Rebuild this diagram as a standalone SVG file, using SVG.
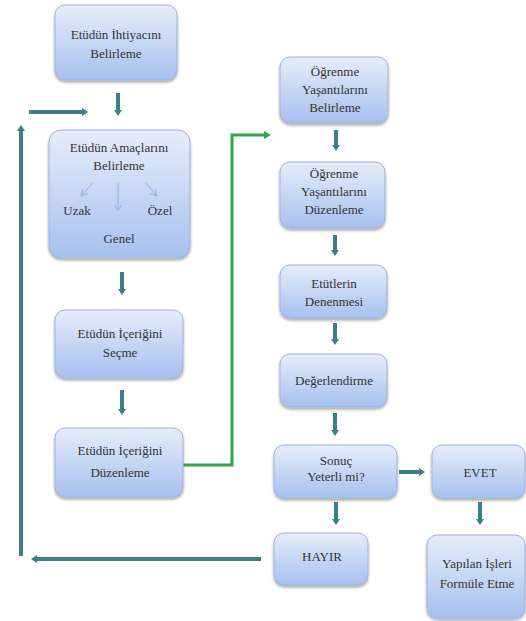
<svg xmlns="http://www.w3.org/2000/svg" width="526" height="621" viewBox="0 0 526 621">
<defs>
<linearGradient id="g" x1="0" y1="0" x2="0" y2="1">
<stop offset="0" stop-color="#e6edfa"/>
<stop offset="1" stop-color="#a6c0ee"/>
</linearGradient>
<filter id="sh" x="-10%" y="-10%" width="120%" height="130%">
<feGaussianBlur in="SourceAlpha" stdDeviation="1.5"/>
<feOffset dx="0" dy="2" result="b"/>
<feComponentTransfer><feFuncA type="linear" slope="0.35"/></feComponentTransfer>
<feMerge><feMergeNode/><feMergeNode in="SourceGraphic"/></feMerge>
</filter>
<marker id="ah" markerUnits="userSpaceOnUse" markerWidth="10" markerHeight="10" refX="2" refY="5" orient="auto">
<path d="M0,1 L6,5 L0,9 Z" fill="#3f7d88"/>
</marker>
<marker id="ahg" markerUnits="userSpaceOnUse" markerWidth="10" markerHeight="10" refX="2" refY="5" orient="auto">
<path d="M0,1 L7,5 L0,9 Z" fill="#2ea64a"/>
</marker>
<marker id="ahs" markerUnits="userSpaceOnUse" markerWidth="8" markerHeight="8" refX="5" refY="4" orient="auto">
<path d="M0,0.5 L6,4 L0,7.5" fill="none" stroke="#8fb0dc" stroke-width="1"/>
</marker>
</defs>
<style>
.box{fill:url(#g);stroke:#9db3d9;stroke-width:1;filter:url(#sh)}
.t{font-family:'Liberation Serif','DejaVu Serif','Times New Roman',serif;font-size:13px;fill:#333;text-anchor:middle}
.c{fill:none;stroke:#3f7d88;stroke-width:4;marker-end:url(#ah)}
.g{fill:none;stroke:#2ea64a;stroke-width:3;marker-end:url(#ahg)}
.s{fill:none;stroke:#8fb0dc;stroke-width:1;marker-end:url(#ahs)}
</style>
<g id="connectors">
<line class="c" x1="118" y1="93" x2="118" y2="112"/>
<line class="c" x1="122" y1="272" x2="122" y2="291"/>
<line class="c" x1="122" y1="390" x2="122" y2="411"/>
<polyline class="g" points="183,465 232,465 232,135 266,135"/>
<line class="c" x1="336" y1="130" x2="336" y2="147"/>
<line class="c" x1="335" y1="235" x2="335" y2="252"/>
<line class="c" x1="335" y1="323" x2="335" y2="341"/>
<line class="c" x1="335" y1="413" x2="335" y2="432"/>
<line class="c" x1="399" y1="472" x2="421" y2="472"/>
<line class="c" x1="480" y1="502" x2="480" y2="521"/>
<line class="c" x1="336" y1="502" x2="336" y2="521"/>
<line class="c" x1="261" y1="559" x2="35" y2="559"/>
<line class="c" x1="21" y1="556" x2="21" y2="129"/>
<line class="c" x1="29" y1="112" x2="84" y2="112"/>
</g>
<g id="n1"><rect class="box" x="55" y="5" width="122" height="75" rx="10"/>
<text class="t" x="116" y="39">Etüdün İhtiyacını</text><text class="t" x="116" y="58">Belirleme</text></g>
<g id="n2"><rect class="box" x="49" y="130" width="141" height="128" rx="12"/>
<text class="t" x="119" y="152">Etüdün Amaçlarını</text><text class="t" x="119" y="170">Belirleme</text>
<line class="s" x1="93" y1="183" x2="82" y2="195"/>
<line class="s" x1="118" y1="183" x2="118" y2="210"/>
<line class="s" x1="146" y1="183" x2="156" y2="195"/>
<text class="t" x="77" y="215">Uzak</text><text class="t" x="160" y="215">Özel</text>
<text class="t" x="119" y="243">Genel</text></g>
<g id="n3"><rect class="box" x="55" y="310" width="128" height="68" rx="10"/>
<text class="t" x="120" y="338">Etüdün İçeriğini</text><text class="t" x="120" y="357">Seçme</text></g>
<g id="n4"><rect class="box" x="55" y="428" width="128" height="69" rx="10"/>
<text class="t" x="120" y="455">Etüdün İçeriğini</text><text class="t" x="120" y="477">Düzenleme</text></g>
<g id="n5"><rect class="box" x="280" y="57" width="108" height="66" rx="10"/>
<text class="t" x="335" y="76">Öğrenme</text><text class="t" x="335" y="94">Yaşantılarını</text><text class="t" x="335" y="112">Belirleme</text></g>
<g id="n6"><rect class="box" x="280" y="162" width="105" height="66" rx="10"/>
<text class="t" x="334" y="178">Öğrenme</text><text class="t" x="334" y="196">Yaşantılarını</text><text class="t" x="334" y="214">Düzenleme</text></g>
<g id="n7"><rect class="box" x="280" y="265" width="107" height="53" rx="10"/>
<text class="t" x="334" y="288">Etütlerin</text><text class="t" x="334" y="306">Denenmesi</text></g>
<g id="n8"><rect class="box" x="280" y="354" width="107" height="53" rx="10"/>
<text class="t" x="334" y="385">Değerlendirme</text></g>
<g id="n9"><rect class="box" x="274" y="445" width="123" height="53" rx="10"/>
<text class="t" x="336" y="465">Sonuç</text><text class="t" x="336" y="481">Yeterli mi?</text></g>
<g id="n10"><rect class="box" x="432" y="445" width="93" height="53" rx="10"/>
<text class="t" x="480" y="477">EVET</text></g>
<g id="n11"><rect class="box" x="427" y="535" width="98" height="83" rx="10"/>
<text class="t" x="477" y="568">Yapılan İşleri</text><text class="t" x="477" y="588">Formüle Etme</text></g>
<g id="n12"><rect class="box" x="274" y="533" width="94" height="52" rx="10"/>
<text class="t" x="322" y="561">HAYIR</text></g>
</svg>
